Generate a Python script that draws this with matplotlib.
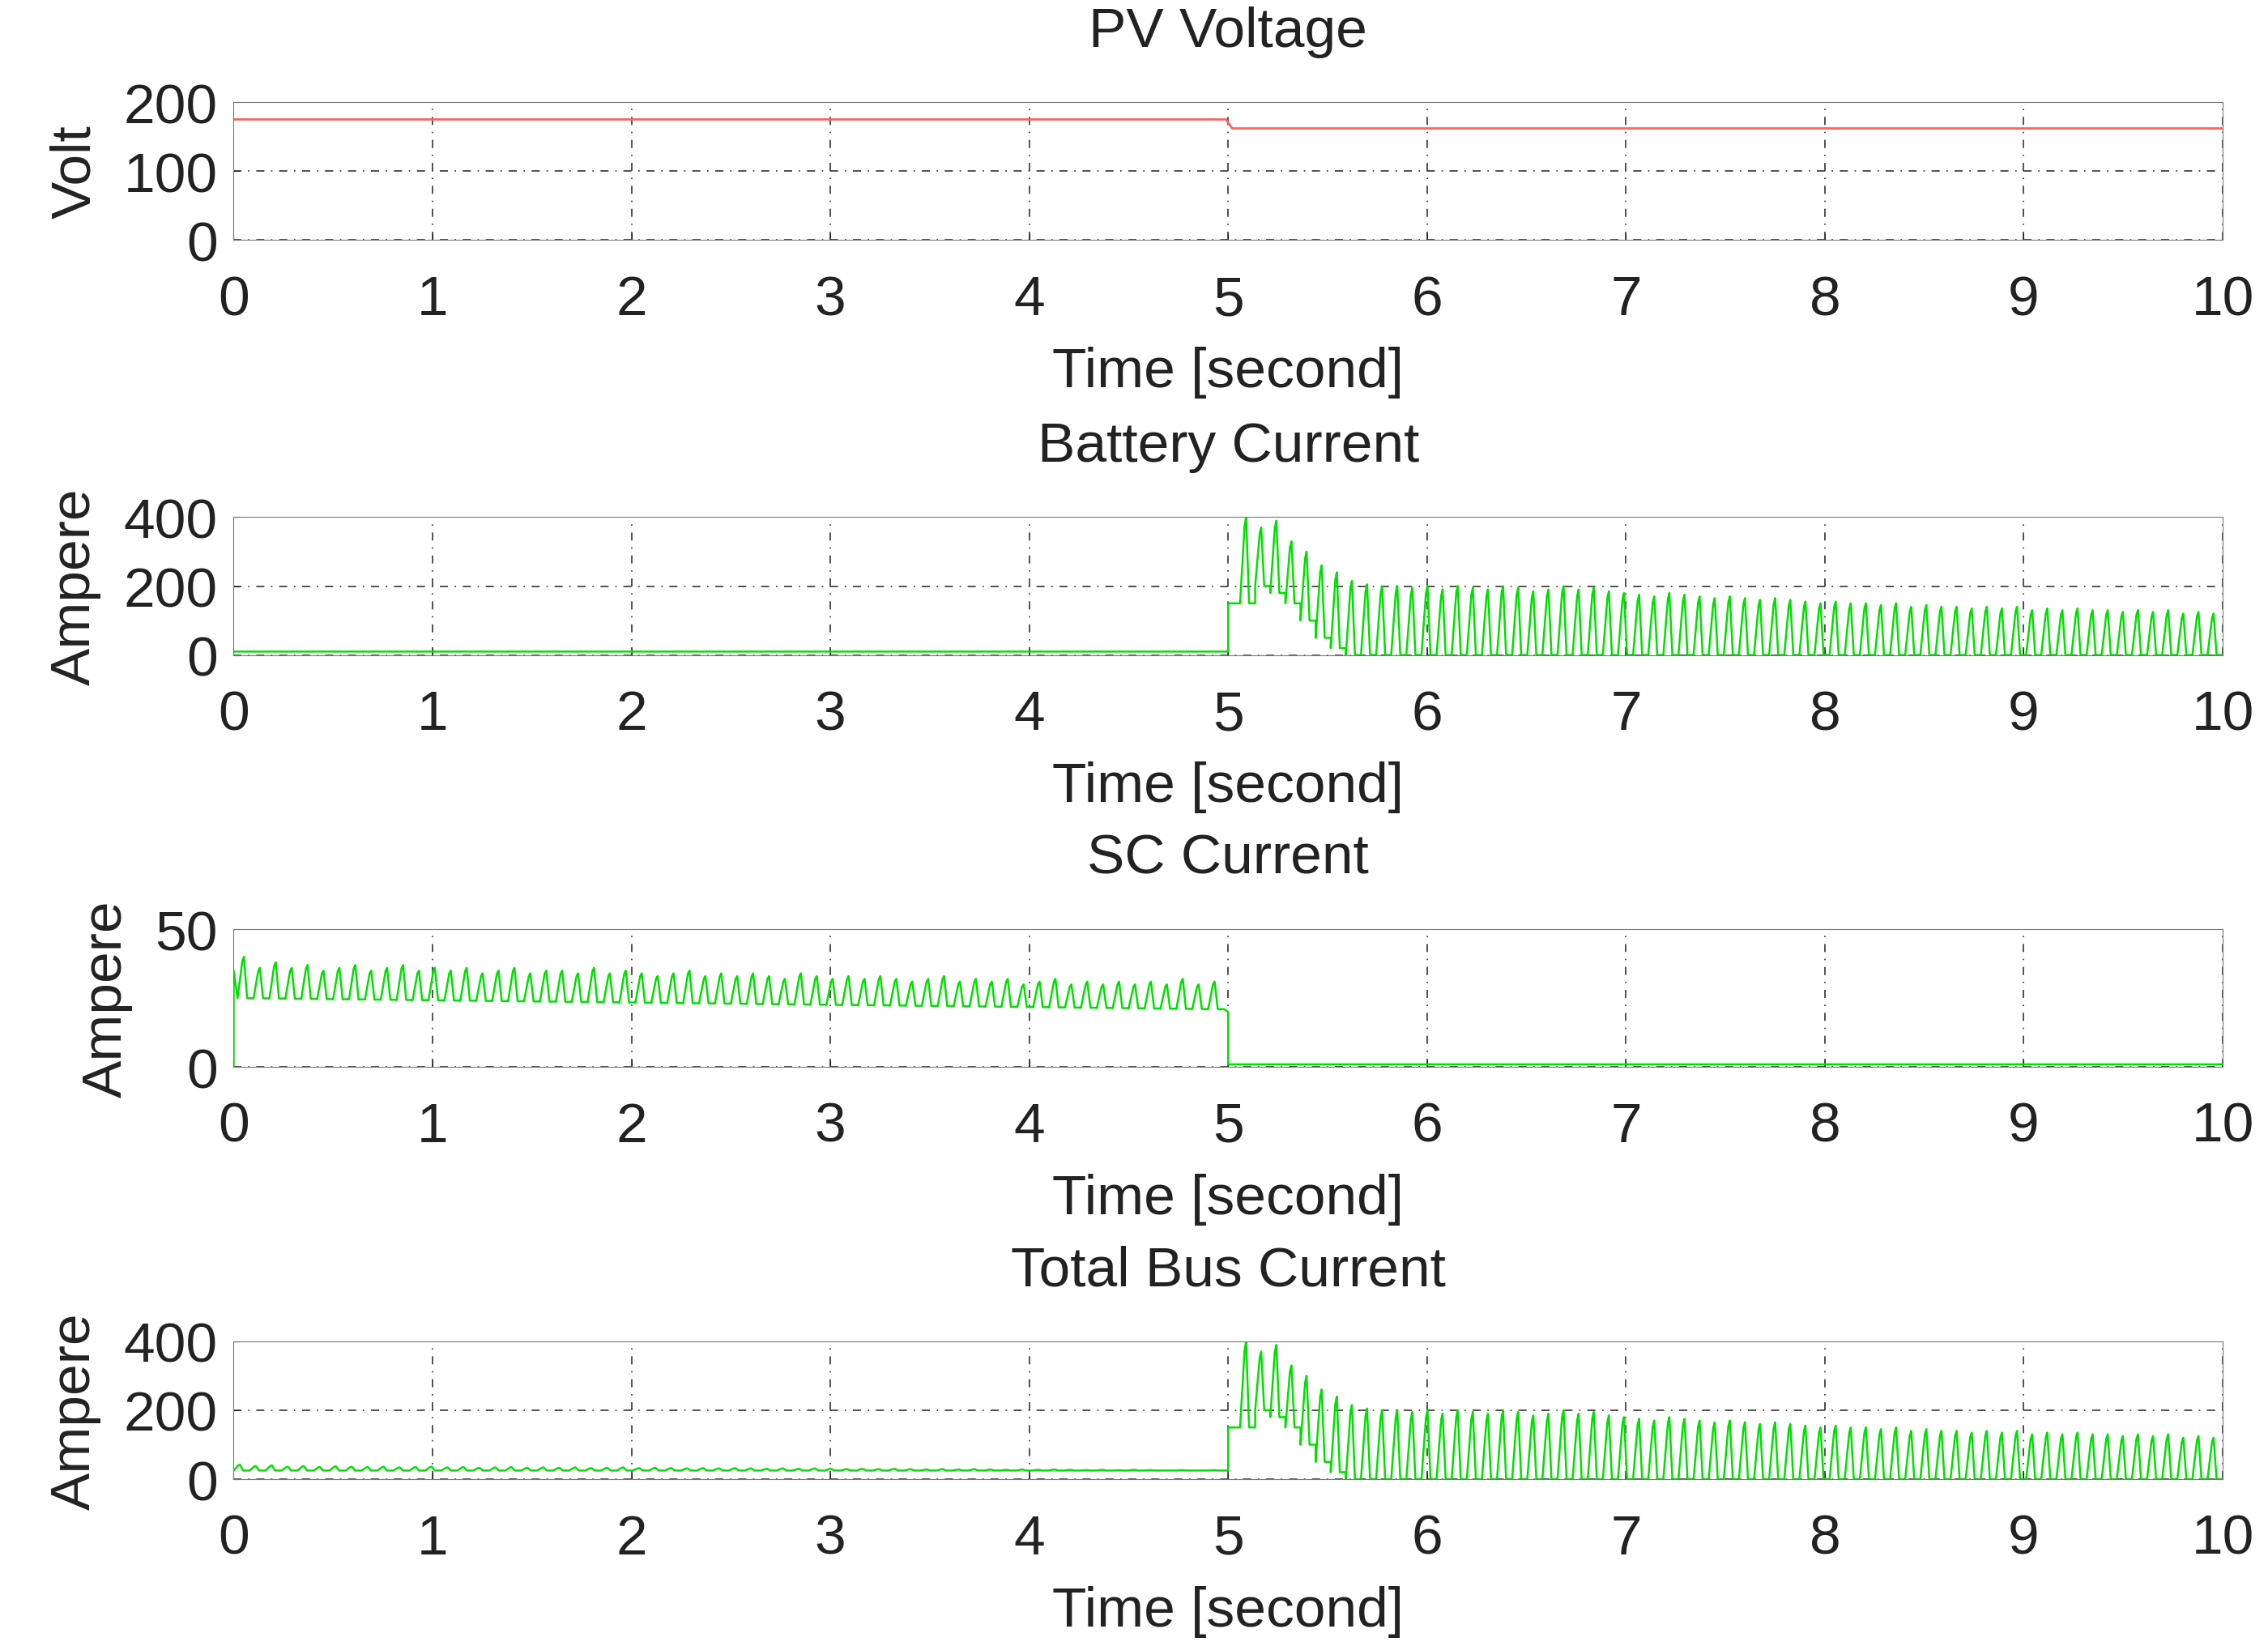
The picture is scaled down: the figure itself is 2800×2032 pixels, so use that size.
import numpy as np
import matplotlib
matplotlib.use("Agg")
import matplotlib.pyplot as plt

plt.rcParams['font.family'] = ['Liberation Sans', 'DejaVu Sans']

# ---- data ----
pv_time = [0, 4.99, 5.02, 10]
pv_volt = [175, 175, 162, 162]

bat_pre_level = 10
bat_peaks = [400, 370, 390, 330, 300, 260, 240, 215, 205, 200, 200, 195, 200, 190, 200, 195,
             190, 200, 195, 185, 190, 200, 190, 195, 185, 180, 175, 170, 180, 175, 170, 165,
             170, 165, 160, 165, 160, 155, 150, 155, 150, 150, 145, 150, 140, 145, 140, 140,
             135, 140, 135, 140, 130, 135, 130, 135, 130, 130, 125, 130, 125, 130, 120, 125, 120]
bat_troughs = [150, 200, 180, 150, 100, 50, 20]

sc_peaks = [40, 36, 38, 36, 37, 35, 36, 37, 35, 36, 37, 35, 36, 35, 36, 34, 35, 36, 34, 35,
            35, 34, 36, 34, 35, 34, 33, 34, 35, 33, 34, 33, 34, 33, 32, 34, 33, 32, 33, 32,
            33, 32, 31, 32, 33, 31, 32, 31, 32, 30, 31, 32, 30, 31, 30, 31, 30, 31, 30, 32, 30, 31]
sc_troughs_start, sc_troughs_end = 25, 21
sc_post_level = 1

bus_pre_peaks = [42, 38, 40, 36, 38, 35, 37, 36, 35, 36, 34, 35, 36, 34, 35, 33, 34, 35, 33, 34,
                 33, 34, 32, 33, 34, 32, 33, 32, 31, 32, 31, 32, 31, 30, 31, 30, 31, 30, 29, 30,
                 29, 30, 29, 28, 29, 28, 29, 28, 27, 28, 27, 28, 27, 26, 27, 26, 27, 26, 25, 26, 25, 26]
bus_pre_trough = 25

def spikes(t0, t1, peaks, troughs, default_trough=0.0):
    n = len(peaks)
    edges = np.linspace(t0, t1, n + 1)
    xs, ys = [], []
    for i, p in enumerate(peaks):
        tr = troughs[i] if i < len(troughs) else default_trough
        a, b = edges[i], edges[i + 1]
        xs += [a, a + 0.3 * (b - a), a + 0.4 * (b - a), a + 0.6 * (b - a), b]
        ys += [tr, p * 0.9 + tr * 0.1, p, tr, tr]
    return xs, ys

fig = plt.figure(figsize=(28, 20.33), dpi=100)
L, W = 0.103, 0.877
bottoms = [1 - 166/1135, 1 - 452/1135, 1 - 736/1135, 1 - 1020/1135]
H = 95/1135
titles = ["PV Voltage", "Battery Current", "SC Current", "Total Bus Current"]
ylabels = ["Volt", "Ampere", "Ampere", "Ampere"]
yticks = [[0, 100, 200], [0, 200, 400], [0, 50], [0, 200, 400]]
ylims = [(0, 200), (0, 400), (0, 50), (0, 400)]
green = '#00e000'
fs = 50

axes = []
for i in range(4):
    ax = fig.add_axes([L, bottoms[i], W, H])
    axes.append(ax)
    ax.set_xlim(0, 10)
    ax.set_ylim(*ylims[i])
    ax.set_xticks(range(11))
    ax.set_yticks(yticks[i])
    ax.tick_params(axis='x', pad=30)
    ax.tick_params(labelsize=fs, length=6, direction='in', colors='#222222')
    ax.tick_params(axis='y', pad=14)
    ax.grid(True, color='#333333', linestyle=(0, (6, 5, 1, 5)), linewidth=1.2)
    ax.set_title(titles[i], fontsize=fs, pad=50, color='#222222')
    ax.set_xlabel("Time [second]", fontsize=fs, color='#222222', labelpad=18)
    ax.set_ylabel(ylabels[i], fontsize=fs, color='#222222', labelpad=20)
    for s in ax.spines.values():
        s.set_color('#777777')

axes[0].plot(pv_time, pv_volt, color='#ff6060', lw=2)

x, y = spikes(5.06, 10, bat_peaks, bat_troughs)
axes[1].plot([0, 5.0, 5.0, 5.06] + x, [bat_pre_level, bat_pre_level, 150, 150] + y, color=green, lw=1.8)

tr = np.linspace(sc_troughs_start, sc_troughs_end, len(sc_peaks))
x, y = spikes(0.02, 4.98, sc_peaks, list(tr), sc_troughs_end)
axes[2].plot([0, 0.0, 0.02] + x + [5.0, 5.0, 10], [0, 35, 25] + y + [20, sc_post_level, sc_post_level], color=green, lw=1.8)

x, y = spikes(0.0, 4.98, bus_pre_peaks, [bus_pre_trough] * len(bus_pre_peaks), bus_pre_trough)
x2, y2 = spikes(5.06, 10, bat_peaks, bat_troughs)
axes[3].plot(x + [5.0, 5.0, 5.06] + x2, y + [25, 150, 150] + y2, color=green, lw=1.8)

fig.savefig("out.png", dpi=100)
